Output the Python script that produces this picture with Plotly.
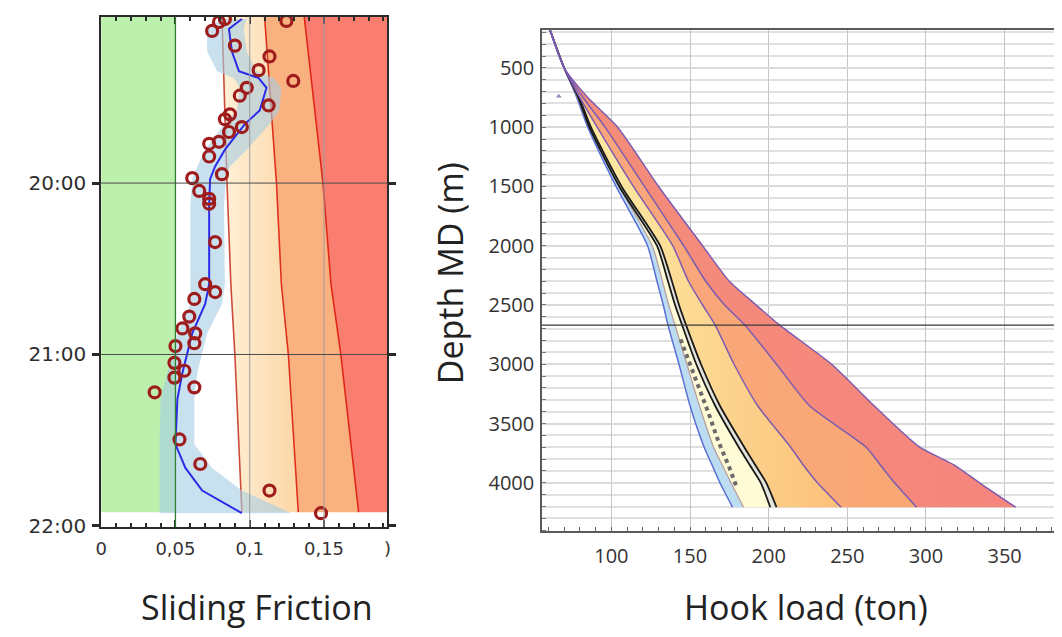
import plotly.graph_objects as go

W, H = 1062, 637

# ---------------- Left panel: sliding friction vs time (decimal hours) ----------------
ZONE_T = [19.03, 20.0, 20.59, 21.0, 21.92]
ZONE_LINE1 = [0.0813, 0.0847, 0.0873, 0.0900, 0.0947]
ZONE_LINE2 = [0.1100, 0.1180, 0.1213, 0.1260, 0.1327]
ZONE_LINE3 = [0.1367, 0.1493, 0.1547, 0.1613, 0.1733]
GREEN_LIMIT = 0.05
FRICTION_MAX = 0.1927

TREND_T = [19.043, 19.100, 19.232, 19.347, 19.387, 19.444, 19.576, 19.656, 19.805, 19.903,
           19.977, 20.132, 20.590, 20.705, 20.877, 21.106, 21.261, 21.524, 21.662, 21.794, 21.926]
TREND_F = [0.0947, 0.0860, 0.0880, 0.0927, 0.1060, 0.1113, 0.1067, 0.0967, 0.0833, 0.0767,
           0.0733, 0.0727, 0.0727, 0.0700, 0.0613, 0.0547, 0.0513, 0.0500, 0.0567, 0.0680, 0.0947]
BAND_LO = [0.0813, 0.0713, 0.0713, 0.0780, 0.0893, 0.0933, 0.0913, 0.0827, 0.0700, 0.0647,
           0.0613, 0.0600, 0.0600, 0.0600, 0.0513, 0.0447, 0.0400, 0.0393, 0.0393, 0.0393, 0.0393]
BAND_HI = [0.0980, 0.0960, 0.0980, 0.1047, 0.1160, 0.1213, 0.1200, 0.1133, 0.0980, 0.0867,
           0.0840, 0.0827, 0.0833, 0.0813, 0.0713, 0.0647, 0.0627, 0.0627, 0.0747, 0.0947, 0.1280]

OBS_T = [19.112, 19.060, 19.043, 19.054, 19.198, 19.261, 19.341, 19.404, 19.444, 19.490,
         19.547, 19.599, 19.628, 19.673, 19.702, 19.771, 19.759, 19.845, 19.948, 19.971,
         20.046, 20.092, 20.120, 20.344, 20.590, 20.636, 20.676, 20.779, 20.848, 20.877,
         20.934, 20.951, 21.049, 21.095, 21.135, 21.221, 21.192, 21.496, 21.639, 21.794, 21.926]
OBS_F = [0.0747, 0.0793, 0.0833, 0.1247, 0.0900, 0.1133, 0.1060, 0.1293, 0.0980, 0.0933,
         0.1127, 0.0867, 0.0833, 0.0947, 0.0860, 0.0727, 0.0793, 0.0727, 0.0813, 0.0613,
         0.0660, 0.0727, 0.0727, 0.0767, 0.0700, 0.0767, 0.0627, 0.0593, 0.0547, 0.0633,
         0.0627, 0.0500, 0.0493, 0.0560, 0.0493, 0.0360, 0.0627, 0.0527, 0.0667, 0.1133, 0.1480]

F_TICKS = [0, 0.05, 0.1, 0.15, 0.1927]
F_TICKTEXT = ["0", "0,05", "0,1", "0,15", ")"]
T_TICKS = [20, 21, 22]
T_TICKTEXT = ["20:00", "21:00", "22:00"]

# ---------------- Right panel: hook load vs depth ----------------
DEPTH = [180, 500, 750, 1000, 1500, 2000, 2300, 2500, 2670, 3000, 3350, 3700, 3850, 4000, 4206]
LOAD_BLUE = [61, 70, 78, 85, 103, 123, 129, 133, 136, 143, 150, 159, 164, 169, 177]
LOAD_BAND = [61, 70, 78.5, 86, 105, 126, 132.5, 136.5, 140.5, 148, 156, 165, 170.5, 176, 184]
LOAD_BLACK1 = [61, 70, 79, 86, 105, 129, 136, 140.5, 145, 154, 166, 181, 188, 195, 201]
LOAD_BLACK2 = [61, 70, 79.5, 87, 106.5, 131, 138.5, 143, 147.5, 157, 169, 184.5, 191.5, 198.5, 205]
LOAD_VIOLET1 = [61, 70, 80, 91, 114, 139, 149, 158, 166, 178, 193, 214, 222, 231, 246]
LOAD_VIOLET2 = [61, 70, 82, 96, 121, 146, 160, 172, 185, 205, 226, 262, 271, 280, 294]
LOAD_OUTER = [61, 70, 85, 104, 130, 158, 175, 192, 207, 240, 267, 296, 318, 334, 357]

MEAS_DEPTH = [2790, 3000, 3200, 3420, 3650, 3870, 4050]
MEAS_LOAD = [144, 150, 156, 162, 168, 175, 180]

MARK_DEPTH = [740]
MARK_LOAD = [66.6]

CUT_DEPTH = 2670
LOAD_TICKS = [100, 150, 200, 250, 300, 350]
DEPTH_TICKS = [500, 1000, 1500, 2000, 2500, 3000, 3500, 4000]

fig = go.Figure()

# ---- left panel traces ----
L = dict(xaxis="x", yaxis="y", showlegend=False, hoverinfo="skip")
n = len(ZONE_T)
fig.add_trace(go.Scatter(x=[0] * n, y=ZONE_T, mode="lines", line=dict(width=0), **L))
fig.add_trace(go.Scatter(x=[GREEN_LIMIT] * n, y=ZONE_T, mode="lines", line=dict(width=0),
                         fill="tonextx", fillcolor="#bdf0ad", **L))
fig.add_trace(go.Scatter(x=ZONE_LINE1, y=ZONE_T, mode="lines", line=dict(width=0), **L))
fig.add_trace(go.Scatter(x=ZONE_LINE2, y=ZONE_T, mode="lines", line=dict(width=0),
                         fill="tonextx",
                         fillgradient=dict(type="horizontal", start=0.08, stop=0.135,
                                           colorscale=[[0, "#fff1d8"], [1, "#fcd4a2"]]), **L))
fig.add_trace(go.Scatter(x=ZONE_LINE3, y=ZONE_T, mode="lines", line=dict(width=0),
                         fill="tonextx", fillcolor="#f9b27f", **L))
fig.add_trace(go.Scatter(x=[FRICTION_MAX + 0.002] * n, y=ZONE_T, mode="lines", line=dict(width=0),
                         fill="tonextx", fillcolor="#f97e70", **L))
for xs, col in [(ZONE_LINE1, "#cc4a3a"), (ZONE_LINE2, "#e0301e"), (ZONE_LINE3, "#e0281a")]:
    fig.add_trace(go.Scatter(x=xs, y=ZONE_T, mode="lines", line=dict(color=col, width=1.6), **L))
fig.add_trace(go.Scatter(x=BAND_LO, y=TREND_T, mode="lines", line=dict(width=0), **L))
fig.add_trace(go.Scatter(x=BAND_HI, y=TREND_T, mode="lines", line=dict(width=0),
                         fill="tonextx", fillcolor="rgba(165,205,228,0.6)", **L))
fig.add_trace(go.Scatter(x=TREND_F, y=TREND_T, mode="lines", line=dict(color="#2b2be8", width=2), **L))
fig.add_trace(go.Scatter(x=OBS_F, y=OBS_T, mode="markers",
                         marker=dict(symbol="circle-open", size=11, color="#9e1c1c",
                                     line=dict(width=3.2, color="#9e1c1c")), **L))

# ---- right panel traces ----
R = dict(xaxis="x2", yaxis="y2", showlegend=False, hoverinfo="skip")
SPL = dict(shape="spline", smoothing=0.6)
fig.add_trace(go.Scatter(x=LOAD_BLUE, y=DEPTH, mode="lines", line=dict(color="#5a6fd6", width=1.5, **SPL), **R))
fig.add_trace(go.Scatter(x=LOAD_BAND, y=DEPTH, mode="lines", line=dict(color="#b89a9a", width=1.2, **SPL),
                         fill="tonextx", fillcolor="#bcdcf2", **R))
fig.add_trace(go.Scatter(x=LOAD_BLACK1, y=DEPTH, mode="lines", line=dict(color="#1a1a1a", width=1.8, **SPL),
                         fill="tonextx", fillcolor="#fffbd6", **R))
fig.add_trace(go.Scatter(x=LOAD_BLACK2, y=DEPTH, mode="lines", line=dict(color="#1a1a1a", width=1.8, **SPL),
                         fill="tonextx", fillcolor="#e4e4dc", **R))
fig.add_trace(go.Scatter(x=LOAD_VIOLET1, y=DEPTH, mode="lines", line=dict(color="#7d5cb0", width=1.5, **SPL),
                         fill="tonextx",
                         fillgradient=dict(type="horizontal", start=100, stop=245,
                                           colorscale=[[0, "#fde7a0"], [1, "#fcc07a"]]), **R))
fig.add_trace(go.Scatter(x=LOAD_VIOLET2, y=DEPTH, mode="lines", line=dict(color="#7d5cb0", width=1.5, **SPL),
                         fill="tonextx",
                         fillgradient=dict(type="horizontal", start=100, stop=295,
                                           colorscale=[[0, "#f9a67c"], [1, "#f9a874"]]), **R))
fig.add_trace(go.Scatter(x=LOAD_OUTER, y=DEPTH, mode="lines", line=dict(color="#7d5cb0", width=1.5, **SPL),
                         fill="tonextx",
                         fillgradient=dict(type="horizontal", start=100, stop=357,
                                           colorscale=[[0, "#f48c7a"], [1, "#f5857e"]]), **R))
fig.add_trace(go.Scatter(x=MEAS_LOAD, y=MEAS_DEPTH, mode="lines",
                         line=dict(color="#6a6a6a", width=4, dash="dot"), **R))
fig.add_trace(go.Scatter(x=MARK_LOAD, y=MARK_DEPTH, mode="markers",
                         marker=dict(symbol="triangle-up", size=5, color="#8a8ab8"), **R))

# ---- gridlines / reference lines ----
shapes = []
for xv, col, wd in [(0.05, "#2e7d32", 1.3), (0.1, "#9c9c9c", 1), (0.15, "#9c9c9c", 1)]:
    shapes.append(dict(type="line", xref="x", yref="y domain", x0=xv, x1=xv, y0=0, y1=1,
                       line=dict(color=col, width=wd), layer="above"))
for tv in [20, 21]:
    shapes.append(dict(type="line", xref="x domain", yref="y", x0=0, x1=1, y0=tv, y1=tv,
                       line=dict(color="#4a4a4a", width=1), layer="above"))
shapes.append(dict(type="line", xref="x2 domain", yref="y2", x0=0, x1=1, y0=CUT_DEPTH, y1=CUT_DEPTH,
                   line=dict(color="#3a3a3a", width=1.2), layer="above"))

tick_font_left = dict(family="DejaVu Sans, sans-serif", size=18, color="#333333")
tick_font_right = dict(family="Open Sans, sans-serif", size=20, color="#333333")
title_font = dict(family="Open Sans, sans-serif", size=34, color="#222222")

fig.update_layout(
    width=W, height=H,
    margin=dict(l=0, r=0, t=0, b=0),
    paper_bgcolor="white", plot_bgcolor="white",
    showlegend=False,
    shapes=shapes,
    xaxis=dict(domain=[88 / W, 377 / W], range=[0, FRICTION_MAX], tickvals=F_TICKS, ticktext=F_TICKTEXT,
               showgrid=False, zeroline=False, showline=True, linecolor="#2a2a2a", linewidth=2,
               mirror="allticks", ticks="inside", ticklen=7, tickcolor="#2a2a2a", tickwidth=1.5,
               minor=dict(dtick=0.01, tick0=0, ticks="inside", ticklen=4, tickcolor="#2a2a2a", showgrid=False),
               tickfont=tick_font_left, ticklabelstandoff=5),
    yaxis=dict(domain=[1 - 528 / H, 1 - 9 / H], range=[22.006, 19.03], tickvals=T_TICKS, ticktext=T_TICKTEXT,
               showgrid=False, zeroline=False, showline=True, linecolor="#2a2a2a", linewidth=2,
               mirror="ticks", ticks="outside", ticklen=7, tickwidth=2.5, tickcolor="#2a2a2a",
               tickfont=dict(family="DejaVu Sans, sans-serif", size=20, color="#2e2e2e"),
               ticklabelstandoff=2),
    xaxis2=dict(domain=[533 / W, 1.0], range=[55.9, 389], tickvals=LOAD_TICKS,
                showgrid=True, gridcolor="#c6c6c6", gridwidth=1, zeroline=False,
                showline=True, linecolor="#5a5a5a", linewidth=1.5, mirror=True,
                ticks="", minor=dict(dtick=10, tick0=0, ticks="inside", ticklen=4, tickcolor="#666666",
                                     showgrid=False),
                tickfont=tick_font_right, ticklabelstandoff=6, anchor="y2"),
    yaxis2=dict(domain=[1 - 532 / H, 1 - 22 / H], range=[4405, 177], tickvals=DEPTH_TICKS,
                showgrid=True, gridcolor="#dadada", gridwidth=2, zeroline=False,
                showline=True, linecolor="#5a5a5a", linewidth=1.5,
                ticks="", minor=dict(dtick=100, tick0=0, showgrid=True, gridcolor="#e0e0e0", gridwidth=2,
                                     ticks="inside", ticklen=4, tickcolor="#777777"),
                tickfont=tick_font_right, ticklabelstandoff=2, anchor="x2"),
    annotations=[
        dict(text="Sliding Friction", xref="paper", yref="paper", x=245 / W, y=1 - 610 / H,
             showarrow=False, font=title_font, xanchor="center", yanchor="middle"),
        dict(text="Hook load (ton)", xref="paper", yref="paper", x=800 / W, y=1 - 610 / H,
             showarrow=False, font=title_font, xanchor="center", yanchor="middle"),
        dict(text="Depth MD (m)", xref="paper", yref="paper", x=440 / W, y=1 - 270 / H,
             showarrow=False, textangle=-90, font=title_font, xanchor="center", yanchor="middle"),
    ],
)

fig.write_html("out.html")
